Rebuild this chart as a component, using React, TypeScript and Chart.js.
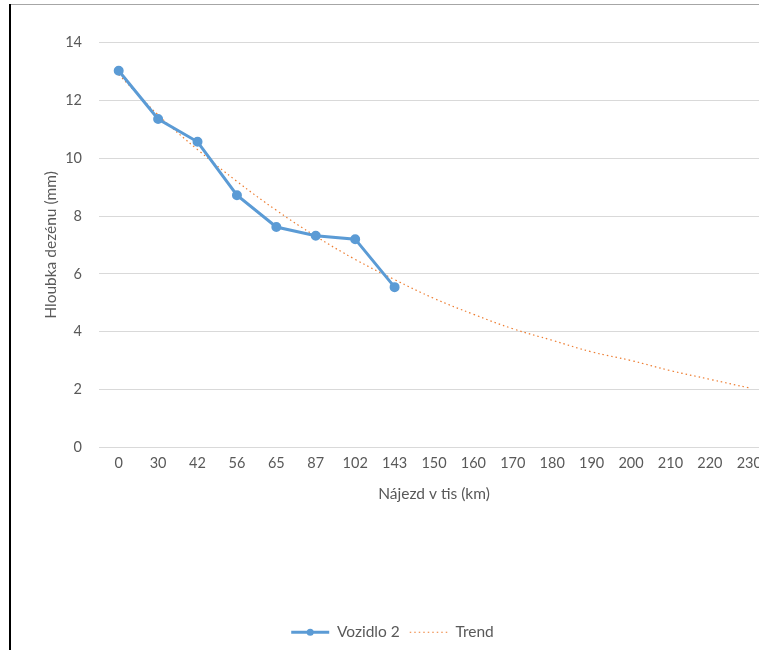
import React, { useEffect, useRef } from "react";
import { Chart, registerables } from "chart.js";

Chart.register(...registerables);

const categories = ["0", "30", "42", "56", "65", "87", "102", "143", "150", "160", "170", "180", "190", "200", "210", "220", "230"];
const vozidlo2: (number | null)[] = [13.03, 11.36, 10.57, 8.72, 7.62, 7.32, 7.2, 5.54, null, null, null, null, null, null, null, null, null];
const trend = [12.9, 11.5, 10.3, 9.2, 8.2, 7.3, 6.5, 5.8, 5.15, 4.6, 4.1, 3.7, 3.3, 3.0, 2.65, 2.35, 2.05];
const yMin = 0;
const yMax = 14;
const yStep = 2;

const FONT = "Lato, 'Open Sans', sans-serif";
const TEXT = "#595959";
const BLUE = "#5B9BD5";
const ORANGE = "#ED7D31";

const markerPlugin = {
  id: "legendMarker",
  afterDraw(chart: any) {
    const lg = chart.legend;
    if (!lg || !lg.legendHitBoxes || !lg.legendHitBoxes.length) return;
    const hb = lg.legendHitBoxes[0];
    const bw = lg.options.labels.pointStyleWidth || 40;
    const ctx = chart.ctx;
    ctx.save();
    ctx.fillStyle = BLUE;
    ctx.beginPath();
    ctx.arc(hb.left + bw / 2, hb.top + hb.height / 2, 3.5, 0, Math.PI * 2);
    ctx.fill();
    ctx.restore();
  },
};

export default function App() {
  const ref = useRef<HTMLCanvasElement | null>(null);
  useEffect(() => {
    if (!ref.current) return;
    const chart = new Chart(ref.current, {
      type: "line",
      data: {
        labels: categories,
        datasets: [
          {
            label: "Vozidlo 2",
            data: vozidlo2,
            borderColor: BLUE,
            backgroundColor: BLUE,
            borderWidth: 3,
            pointRadius: 3.5,
            pointBackgroundColor: BLUE,
            pointBorderColor: BLUE,
            pointStyle: "circle",
            tension: 0,
            spanGaps: false,
          },
          {
            label: "Trend",
            data: trend,
            borderColor: ORANGE,
            backgroundColor: ORANGE,
            borderWidth: 1.2,
            borderDash: [1.5, 3],
            pointRadius: 0,
            tension: 0.4,
          },
        ],
      },
      options: {
        responsive: false,
        animation: false,
        layout: { padding: { top: 38.7, right: 2, left: 0, bottom: 0 } },
        plugins: {
          tooltip: { enabled: false },
          legend: {
            position: "bottom",
            labels: {
              color: TEXT,
              font: { family: FONT, size: 15.5 },
              usePointStyle: true,
              pointStyleWidth: 38,
              padding: 10,
              generateLabels: (c: any) =>
                c.data.datasets.map((ds: any, i: number) => ({
                  text: ds.label,
                  datasetIndex: i,
                  pointStyle: "line",
                  strokeStyle: ds.borderColor,
                  fillStyle: ds.borderColor,
                  lineWidth: i === 0 ? 3 : 1.2,
                  lineDash: i === 0 ? [] : [1.5, 3],
                  fontColor: TEXT,
                  hidden: false,
                })),
            },
          },
        },
        scales: {
          x: {
            offset: true,
            grid: { display: false, drawTicks: false },
            border: { display: false },
            ticks: { color: TEXT, font: { family: FONT, size: 14.5 }, padding: 7.1, maxRotation: 0, autoSkip: false },
            title: {
              display: true,
              text: "Nájezd v tis (km)",
              color: TEXT,
              font: { family: FONT, size: 15.5 },
              padding: { top: 5.6, bottom: 111.5 },
            },
          },
          y: {
            min: yMin,
            max: yMax,
            grid: { color: "#D9D9D9", drawTicks: false, lineWidth: 1 },
            border: { display: false },
            ticks: { stepSize: yStep, color: TEXT, font: { family: FONT, size: 14.5 }, padding: 17 },
            title: {
              display: true,
              text: "Hloubka dezénu (mm)",
              color: TEXT,
              font: { family: FONT, size: 15.5 },
              padding: { top: 30.7, bottom: 0 },
            },
            afterFit: (s: any) => {
              s.width = 88;
            },
          },
        },
      },
      plugins: [markerPlugin],
    });
    return () => chart.destroy();
  }, []);

  return (
    <div style={{ position: "absolute", left: 0, top: 0, width: 759, height: 650, overflow: "hidden", background: "#fff" }}>
      <div style={{ position: "absolute", left: 10, top: 4, width: 749, height: 1, background: "#A6A6A6" }} />
      <div style={{ position: "absolute", left: 9, top: 4, width: 2, height: 646, background: "#000" }} />
      <canvas ref={ref} width={765} height={646} style={{ position: "absolute", left: 11, top: 4, width: 765, height: 646 }} />
    </div>
  );
}
